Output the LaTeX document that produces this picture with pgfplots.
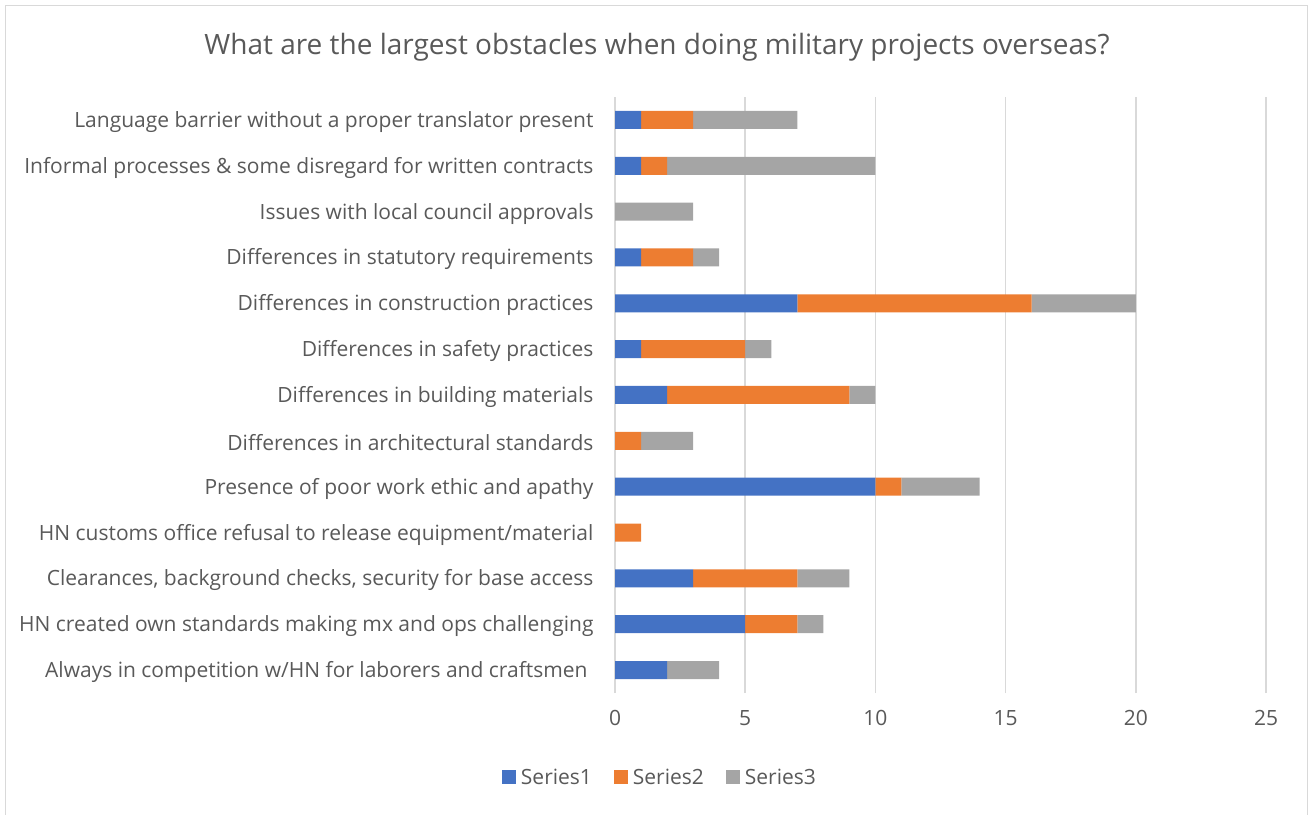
\documentclass[border=0pt]{standalone}
\usepackage{pgfplots}
\pgfplotsset{compat=1.18}
\usepackage{fontspec}
\setmainfont{Open Sans}
\definecolor{sone}{HTML}{4472C4}
\definecolor{stwo}{HTML}{ED7D31}
\definecolor{sthree}{HTML}{A5A5A5}
\definecolor{txt}{HTML}{595959}
\definecolor{grd}{HTML}{D9D9D9}
\begin{document}
\begin{tikzpicture}[x=1bp,y=1bp]
\path[use as bounding box] (0,0) rectangle (1315,814);
\draw[grd,line width=1.2bp] (5.5,-5) -- (5.5,808.5) -- (1307.5,808.5) -- (1307.5,-5);
\node[text=txt,font=\fontsize{28bp}{32bp}\selectfont] at (657,767) {What are the largest obstacles when doing military projects overseas?};
\begin{axis}[
  at={(615bp,121bp)}, anchor=south west,
  scale only axis, width=651bp, height=596bp,
  xbar stacked, bar width=18bp,
  xmin=0, xmax=25, ymin=-0.5, ymax=12.5,
  xtick={0,5,10,15,20,25},
  ytick={0,...,12},
  yticklabels={Always in competition w/HN for laborers and craftsmen\hspace*{6bp},
    HN created own standards making mx and ops challenging,
    {Clearances, background checks, security for base access},
    HN customs office refusal to release equipment/material,
    Presence of poor work ethic and apathy,
    Differences in architectural standards,
    Differences in building materials,
    Differences in safety practices,
    Differences in construction practices,
    Differences in statutory requirements,
    Issues with local council approvals,
    Informal processes \& some disregard for written contracts,
    Language barrier without a proper translator present},
  major tick length=0,
  axis line style={draw=none},
  xmajorgrids, grid style={grd,line width=1.5bp},
  /pgf/number format/assume math mode=true,
  tick label style={text=txt,font=\fontsize{21bp}{25bp}\selectfont},
  yticklabel style={xshift=-18bp,yshift=-2bp},
  xticklabel style={yshift=-14bp},
  legend columns=3,
  legend style={at={(0.069,-0.141)},anchor=center,draw=none,fill=none,
    font=\fontsize{21bp}{25bp}\selectfont,text=txt,
    /tikz/every odd column/.append style={column sep=3bp},
    /tikz/every even column/.append style={column sep=20bp}},
  legend image code/.code={\path[#1,draw=none] (0bp,-7bp) rectangle (14bp,7bp);},
]
\addplot[fill=sone,draw=none] coordinates {(2,0) (5,1) (3,2) (0,3) (10,4) (0,5) (2,6) (1,7) (7,8) (1,9) (0,10) (1,11) (1,12)};
\addplot[fill=stwo,draw=none] coordinates {(0,0) (2,1) (4,2) (1,3) (1,4) (1,5) (7,6) (4,7) (9,8) (2,9) (0,10) (1,11) (2,12)};
\addplot[fill=sthree,draw=none] coordinates {(2,0) (1,1) (2,2) (0,3) (3,4) (2,5) (1,6) (1,7) (4,8) (1,9) (3,10) (8,11) (4,12)};
\legend{Series1,Series2,Series3}
\end{axis}
\end{tikzpicture}
\end{document}
